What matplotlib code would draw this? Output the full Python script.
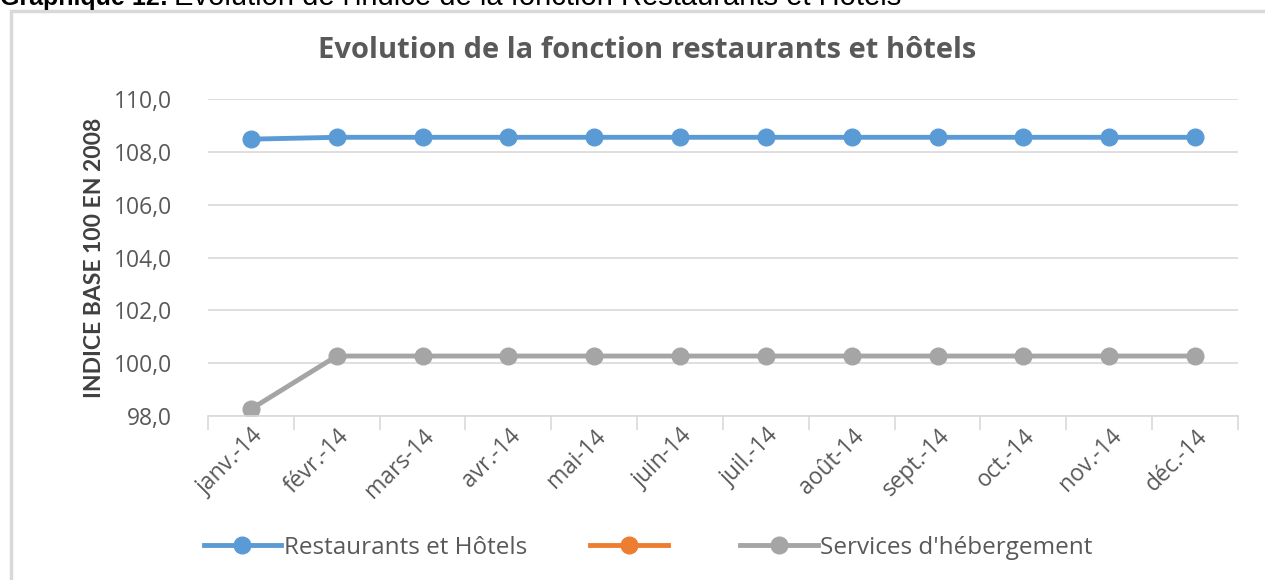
import matplotlib.pyplot as plt
from matplotlib.patches import Rectangle
import numpy as np

plt.rcParams["font.family"] = ["Open Sans", "DejaVu Sans"]

# data
months = ["janv.-14", "févr.-14", "mars-14", "avr.-14", "mai-14", "juin-14",
          "juil.-14", "août-14", "sept.-14", "oct.-14", "nov.-14", "déc.-14"]
restaurants = [108.48, 108.55, 108.55, 108.55, 108.55, 108.55,
               108.55, 108.55, 108.55, 108.55, 108.55, 108.55]
restauration = [np.nan] * 12
hebergement = [98.26, 100.27, 100.27, 100.27, 100.27, 100.27,
               100.27, 100.27, 100.27, 100.27, 100.27, 100.27]
y_ticks = [98, 100, 102, 104, 106, 108, 110]

fig = plt.figure(figsize=(12.65, 5.8), dpi=100)

# page caption, cut at the top like in the source document
cap_y = 1 - 5 / 580
t1 = fig.text(0.0, cap_y, "Graphique 12:", family="Liberation Sans",
              fontsize=18, fontweight="bold", va="baseline", ha="left")
fig.canvas.draw()
x_end = fig.transFigure.inverted().transform(
    (t1.get_window_extent().x1 + 6, 0))[0]
fig.text(x_end, cap_y, "Evolution de l'indice de la fonction Restaurants et Hôtels",
         family="Liberation Sans", fontsize=21, va="baseline", ha="left")

# chart frame
fig.patches.append(Rectangle((11 / 1265, -0.1), 1.2, 1 - 11 / 580 + 0.1,
                             transform=fig.transFigure, fill=False,
                             edgecolor="#d9d9d9", linewidth=2.5))

ax = fig.add_axes([208 / 1265, 1 - 416 / 580, 1030 / 1265, 317 / 580])
x = np.arange(len(months))

ax.plot(x, restaurants, color="#5b9bd5", linewidth=3.5, marker="o",
        markersize=12, label="Restaurants et Hôtels")
ax.plot(x, restauration, color="#ed7d31", linewidth=3.5, marker="o",
        markersize=12, label=" ")
ax.plot(x, hebergement, color="#a5a5a5", linewidth=3.5, marker="o",
        markersize=12, label="Services d'hébergement")

ax.set_xlim(-0.5, len(months) - 0.5)
ax.set_ylim(98, 110)
ax.set_yticks(y_ticks)
ax.set_yticklabels([f"{v:.1f}".replace(".", ",") for v in y_ticks])
ax.yaxis.grid(True, color="#d9d9d9", linewidth=1.2)
ax.set_axisbelow(True)

ax.set_xticks(x)
ax.set_xticklabels(months, rotation=45, ha="right", rotation_mode="anchor")
ax.set_xticks(np.arange(len(months) + 1) - 0.5, minor=True)
ax.tick_params(axis="x", which="major", length=0, labelsize=16.5,
               labelcolor="#595959", pad=6)
ax.tick_params(axis="x", which="minor", length=10, color="#d9d9d9", width=1.2)
ax.tick_params(axis="y", length=0, labelsize=16.5, labelcolor="#595959", pad=26)

for side in ["top", "right", "left"]:
    ax.spines[side].set_visible(False)
ax.spines["bottom"].set_color("#d9d9d9")
ax.spines["bottom"].set_linewidth(1.2)

ax.set_ylabel("INDICE BASE 100 EN 2008", family=["Lato", "DejaVu Sans"],
              fontsize=16.5, fontweight="bold", color="#404040", labelpad=6)
fig.text(647 / 1265, 1 - 50 / 580, "Evolution de la fonction restaurants et hôtels",
         fontsize=21, fontweight="bold", color="#595959", ha="center", va="center")

fig.legend(loc="center", bbox_to_anchor=(648 / 1265, 1 - 548 / 580), ncol=3,
           frameon=False, fontsize=17.5, labelcolor="#595959",
           handlelength=3.2, handletextpad=0.1, columnspacing=2.6)

fig.savefig("out.png", dpi=100)
